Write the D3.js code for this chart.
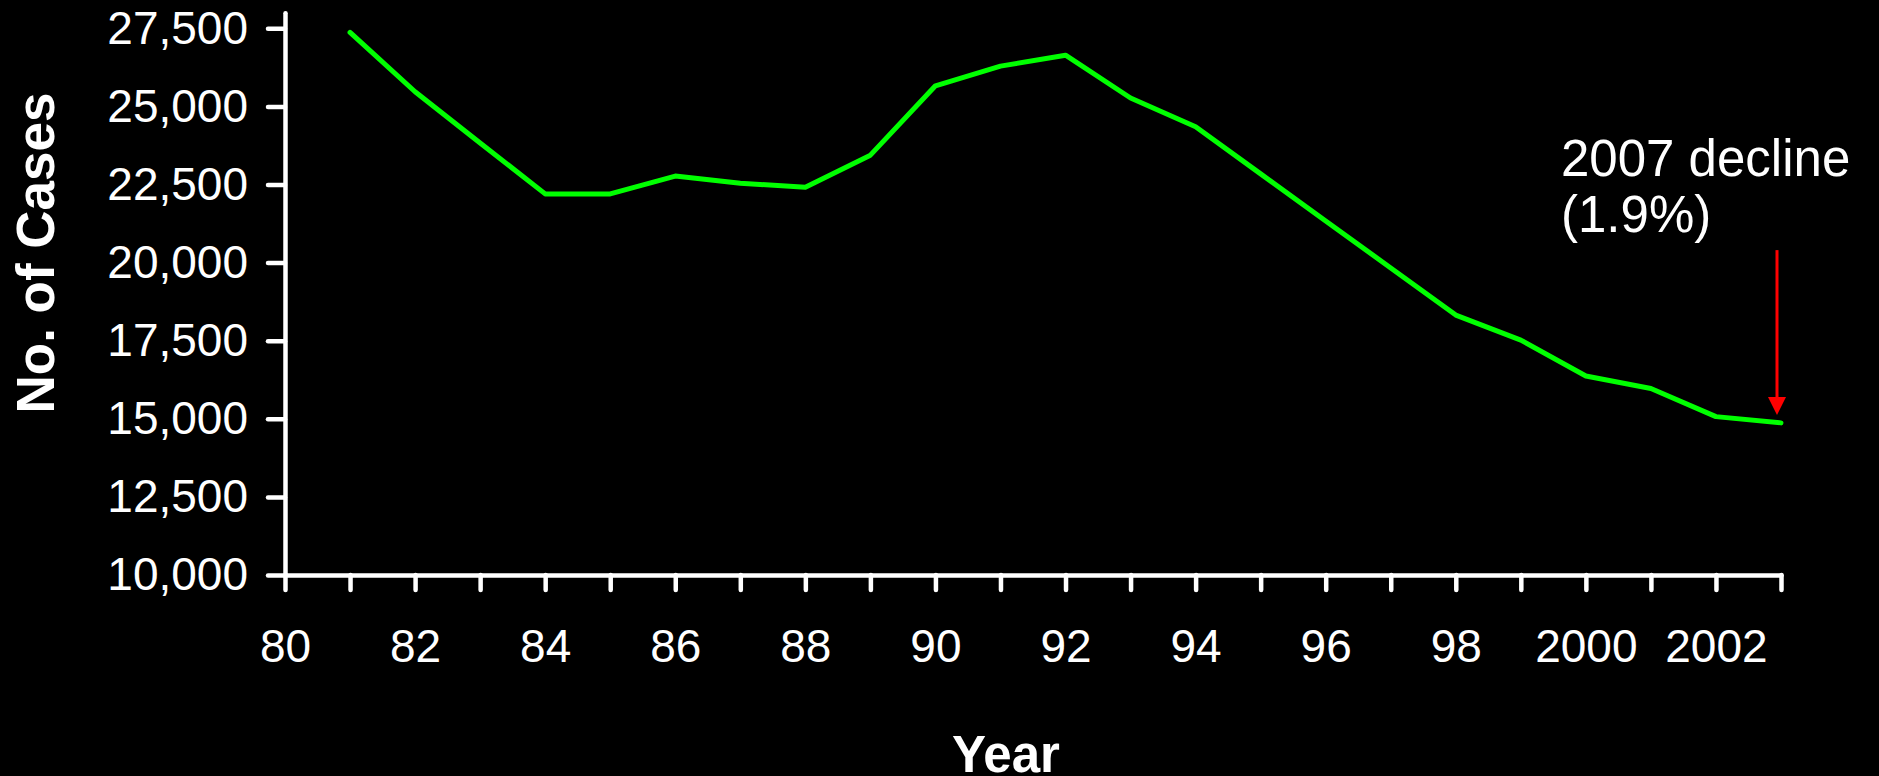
<!doctype html>
<html lang="en">
  <head>
    <meta charset="UTF-8" />
    <title>No. of Cases by Year</title>
    <script src="https://d3js.org/d3.v7.min.js"></script>
    <style>
      body {
        margin: 0;
        background-color: #000;
        font-family: 'Liberation Sans', Arial, sans-serif;
      }

      svg text {
        fill: #fff;
      }

      .axis path,
      .axis line {
        stroke: #fff;
        stroke-width: 4.5;
        stroke-linecap: round;
      }

      .axis text {
        font-family: 'Liberation Sans', Arial, sans-serif;
        font-size: 46px;
        fill: #fff;
      }

      .axis-title {
        font-weight: bold;
        text-anchor: middle;
      }

      .note {
        font-size: 51px;
      }
    </style>
  </head>
  <body>
    <svg id="chart" width="1879" height="776"></svg>

    <script>
      // Data
      const years = [
        1981, 1982, 1983, 1984, 1985, 1986, 1987, 1988, 1989, 1990, 1991, 1992,
        1993, 1994, 1995, 1996, 1997, 1998, 1999, 2000, 2001, 2002, 2003,
      ]
      const cases = [
        27370, 25470, 23830, 22200, 22200, 22770, 22540, 22410, 23440, 25660, 26290, 26640,
        25270, 24350, 22840, 21330, 19830, 18320, 17520, 16370, 15970, 15070, 14870,
      ]

      // Axis ticks and labels
      const yTicks = [10000, 12500, 15000, 17500, 20000, 22500, 25000, 27500]
      const xTicks = d3.range(1980, 2004)
      const xLabelYears = [1980, 1982, 1984, 1986, 1988, 1990, 1992, 1994, 1996, 1998, 2000, 2002]
      const xLabels = ['80', '82', '84', '86', '88', '90', '92', '94', '96', '98', '2000', '2002']

      // Annotation: arrow from / to (in data values) and its text
      const arrowYear = 2003
      const arrowFrom = 20400
      const arrowTo = 15120
      const noteLines = ['2007 decline', '(1.9%)']

      const svg = d3.select('#chart')
      const margin = { top: 12.7, right: 98, bottom: 201, left: 285 }
      const width = +svg.attr('width')
      const height = +svg.attr('height')

      const x = d3
        .scaleLinear()
        .domain([1980, 2003])
        .range([margin.left, width - margin.right])

      const y = d3
        .scaleLinear()
        .domain([10000, 28000])
        .range([height - margin.bottom, margin.top])

      // x axis: a tick every year, labels on even years
      const labelFor = new Map(xLabelYears.map((d, i) => [d, xLabels[i]]))
      svg
        .append('g')
        .attr('class', 'axis')
        .attr('transform', `translate(0,${height - margin.bottom})`)
        .call(
          d3
            .axisBottom(x)
            .tickValues(xTicks)
            .tickSize(15)
            .tickSizeOuter(0)
            .tickPadding(39)
            .tickFormat((d) => labelFor.get(d) || '')
        )

      // y axis
      svg
        .append('g')
        .attr('class', 'axis')
        .attr('transform', `translate(${margin.left},0)`)
        .call(
          d3
            .axisLeft(y)
            .tickValues(yTicks)
            .tickSize(17)
            .tickSizeOuter(0)
            .tickPadding(20)
            .tickFormat(d3.format(','))
        )

      // axis titles
      svg
        .append('text')
        .attr('class', 'axis-title')
        .attr('transform', 'translate(54,253) rotate(-90)')
        .style('font-size', '53px')
        .text('No. of Cases')

      svg
        .append('text')
        .attr('class', 'axis-title')
        .attr('x', 1006)
        .attr('y', 772)
        .style('font-size', '51px')
        .text('Year')

      // the series line
      const line = d3
        .line()
        .x((d, i) => x(years[i]))
        .y((d) => y(d))

      svg
        .append('path')
        .datum(cases)
        .attr('d', line)
        .attr('fill', 'none')
        .attr('stroke', '#00ff00')
        .attr('stroke-width', 5)
        .attr('stroke-linejoin', 'round')
        .attr('stroke-linecap', 'round')

      // red arrow
      const ax = x(arrowYear) - 4
      svg
        .append('line')
        .attr('x1', ax)
        .attr('x2', ax)
        .attr('y1', y(arrowFrom))
        .attr('y2', y(arrowTo) - 14)
        .attr('stroke', '#ff0000')
        .attr('stroke-width', 3)

      svg
        .append('path')
        .attr(
          'd',
          `M${ax - 9},${y(arrowTo) - 18} L${ax + 9},${y(arrowTo) - 18} L${ax},${y(arrowTo)} Z`
        )
        .attr('fill', '#ff0000')

      // annotation text
      svg
        .append('g')
        .selectAll('text')
        .data(noteLines)
        .join('text')
        .attr('class', 'note')
        .attr('x', 1561)
        .attr('y', (d, i) => 176 + i * 56)
        .text((d) => d)
    </script>
  </body>
</html>
